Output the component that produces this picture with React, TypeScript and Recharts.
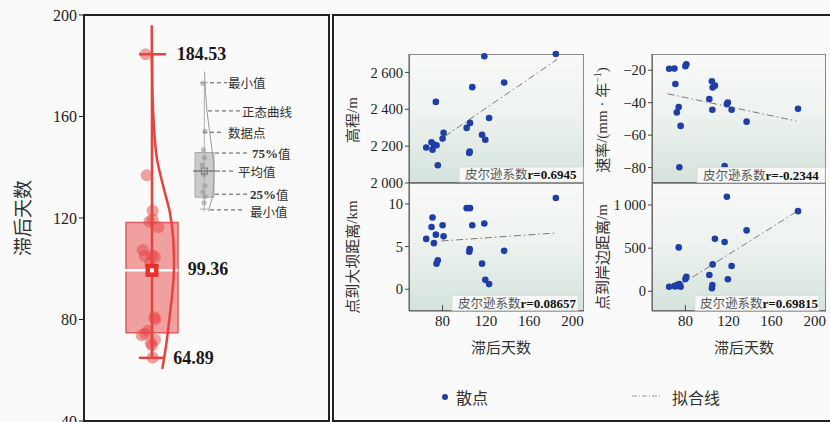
import React from 'react';
import { ComposedChart, Scatter, Line, XAxis, YAxis, ReferenceArea, ReferenceLine } from 'recharts';

// ---------------- data ----------------
const days = [64.89, 69.8, 70.7, 72.0, 73.8, 74.4, 75.6, 80.0, 80.9, 102.2, 104.6, 105.0, 105.3, 107.4, 116.4, 118.5, 119.4, 122.9, 136.8, 184.53];
const elevation = [2193, 2221, 2181, 2208, 2440, 2205, 2096, 2241, 2272, 2299, 2163, 2170, 2326, 2520, 2262, 2688, 2235, 2353, 2545, 2700];
const rate = [-19.1, -19, -28.5, -46, -42.7, -79.8, -54.3, -17.5, -16.3, -37.8, -26.8, -44.4, -30.6, -29.5, -79, -40.9, -39.9, -44.4, -51.7, -43.8];
const damDist = [5.9, 7.3, 8.4, 5.4, 6.4, 3.0, 3.4, 7.5, 6.2, 9.5, 4.4, 4.7, 9.5, 7.5, 3.0, 7.7, 1.1, 0.6, 4.5, 10.7];
const shoreDist = [53, 61, 55, 73, 509, 84, 53, 142, 169, 189, 35, 73, 312, 609, 571, 1095, 139, 293, 706, 929];

const pearson = ['0.6945', '-0.2344', '0.08657', '0.69815'];

const fitElevX = [82, 185.6];
const fitElevY = [2253, 2670];
const fitRateX = [63.4, 183];
const fitRateY = [-34.5, -51.3];
const fitDamX = [79, 185.6];
const fitDamY = [5.66, 6.6];
const fitShoreX = [75, 184];
const fitShoreY = [73, 929];

const dayTicks = [80, 120, 160, 200];
const elevTicks = [2000, 2200, 2400, 2600];
const rateTicks = [-80, -60, -40, -20];
const damTicks = [0, 5, 10];
const shoreTicks = [0, 500, 1000];
const leftTicks = [40, 80, 120, 160, 200];

// box plot statistics of 滞后天数
const statMin = 64.89;
const statQ1 = 74.8;
const statMean = 99.36;
const statQ3 = 118.2;
const statMax = 184.53;

// normal curve (value, horizontal offset in layout units)
const normalCurveV = [196, 180, 166.5, 144, 132.4, 121.9, 111.4, 100.9, 90.4, 80, 69.5, 60.5];
const normalCurveW = [66.7, 67, 67.7, 71.7, 78.3, 85, 88.3, 89, 87.3, 84.3, 81, 77.3];

// legend inset sample (illustrative)
const insetV = [173.1, 154.1, 146.9, 143.7, 140.9, 137, 132.7, 130.4, 128.5, 126];
const insetCurveV = [177.7, 162, 147, 139, 131, 122.6];
const insetCurveW = [119.5, 122, 127, 129, 128.3, 123.3];

// ---------------- layout (not data) ----------------
const boxJitter = [67.7, 67, 65.7, 70, 56.7, 60, 63, 70.3, 69.3, 65, 70, 59.7, 67.3, 57.7, 73.3, 64.3, 67.7, 67.7, 61.7, 60.7];
const insetJitter = [118, 120, 118.5, 119.5, 117, 119, 120, 118, 120, 119];

const CJK = "'Noto Sans CJK SC', 'Noto Sans', sans-serif";
const SERIF = "'Liberation Serif', 'DejaVu Serif', serif";
const BLUE = '#1f3fa6';
const RED = '#e8423c';

const fmtNum = (v: number) => {
  const a = Math.abs(v);
  const s = a >= 1000 ? `${Math.floor(a / 1000)} ${String(a % 1000).padStart(3, '0')}` : String(a);
  return (v < 0 ? '\u2212' : '') + s;
};

function XTick(props: any) {
  const { x, y, payload } = props;
  return (
    <g>
      <line x1={x} x2={x} y1={y} y2={y - 6} stroke="#444" strokeWidth={1} />
      <text x={x} y={y + 15} textAnchor="middle" fontSize={15} fontFamily={SERIF} fill="#222">
        {payload.value}
      </text>
    </g>
  );
}

const blueDot = (p: any) => <circle cx={p.cx} cy={p.cy} r={3.3} fill={BLUE} />;

type PanelProps = {
  left: number; top: number; w: number; h: number;
  ys: number[]; domain: [number, number]; ticks: number[];
  fx: number[]; fy: number[]; showX: boolean;
};

function Panel({ left, top, w, h, ys, domain, ticks, fx, fy, showX }: PanelProps) {
  const YW = 60, MT = 10, MR = 10, XH = 24;
  const data = days.map((d, i) => ({ x: d, y: ys[i] }));
  const fit = fx.map((x, i) => ({ x, y: fy[i] }));
  return (
    <>
      <div style={{
        position: 'absolute', left, top, width: w, height: h, boxSizing: 'border-box',
        border: '1px solid #8a8a8a', background: 'linear-gradient(to bottom, #f8f9f8 0%, #eef3f0 45%, #d5e3dc 100%)',
      }} />
      <div style={{ position: 'absolute', left: left - YW, top: top - MT }}>
        <ComposedChart width={YW + w + MR} height={MT + h + XH} margin={{ top: MT, right: MR, bottom: 0, left: 0 }}>
          <XAxis type="number" dataKey="x" domain={[49, 210.5]} ticks={dayTicks} height={XH}
            axisLine={{ stroke: '#555' }} tickLine={false} tickSize={0} tickMargin={0}
            tick={showX ? <XTick /> : false} />
          <YAxis type="number" dataKey="y" domain={domain} ticks={ticks} width={YW}
            axisLine={{ stroke: '#555' }} tickLine={{ stroke: '#444' }} tickSize={4} tickMargin={2}
            tick={{ fontSize: 14.5, fill: '#222', fontFamily: SERIF }} tickFormatter={fmtNum} />
          <Line data={fit} dataKey="y" type="linear" stroke="#7a7a7a" strokeWidth={1}
            strokeDasharray="7 3 1.5 3" dot={false} isAnimationActive={false} />
          <Scatter data={data} dataKey="y" fill={BLUE} shape={blueDot} isAnimationActive={false} />
        </ComposedChart>
      </div>
    </>
  );
}

function LeftPanel() {
  const pts = days.map((d, i) => ({ x: boxJitter[i], y: d }));
  const curve = normalCurveV.map((v, i) => ({ x: normalCurveW[i], y: v }));
  const insetPts = insetV.map((v, i) => ({ x: insetJitter[i], y: v }));
  const insetCurve = insetCurveV.map((v, i) => ({ x: insetCurveW[i], y: v }));
  const meanPt = [{ x: 67, y: statMean }];
  const insetMean = [{ x: 119.3, y: 138.5 }];
  return (
    <div style={{ position: 'absolute', left: 0, top: 5 }}>
      <ComposedChart width={334} height={436} margin={{ top: 10, right: 5, bottom: 20, left: 0 }}>
        <XAxis type="number" dataKey="x" domain={[0, 244]} hide />
        <YAxis type="number" dataKey="y" domain={[40, 200]} ticks={leftTicks} width={85}
          axisLine={false} tickSize={6} tickMargin={2} tickLine={{ stroke: '#222' }}
          tick={{ fontSize: 16, fill: '#222', fontFamily: SERIF }} />
        {/* inset legend illustration */}
        <ReferenceLine segment={[{ x: 119.3, y: 122.6 }, { x: 119.3, y: 173.7 }]} stroke="#b0b0b0" strokeWidth={1} />
        <ReferenceArea x1={110} x2={129} y1={128.2} y2={145.8} fill="#c4c4c4" fillOpacity={0.9} stroke="#a8a8a8" />
        <ReferenceLine segment={[{ x: 115, y: 173.3 }, { x: 123, y: 173.3 }]} stroke="#b0b0b0" />
        <ReferenceLine segment={[{ x: 115, y: 123.5 }, { x: 123, y: 123.5 }]} stroke="#b0b0b0" />
        <ReferenceLine segment={[{ x: 108, y: 138.5 }, { x: 135, y: 138.5 }]} stroke="#555" />
        <ReferenceLine segment={[{ x: 125, y: 173.3 }, { x: 142, y: 173.3 }]} stroke="#555" strokeDasharray="4 3" />
        <ReferenceLine segment={[{ x: 123, y: 162.2 }, { x: 155, y: 162.2 }]} stroke="#555" strokeDasharray="4 3" />
        <ReferenceLine segment={[{ x: 118, y: 153.8 }, { x: 137, y: 153.8 }]} stroke="#555" strokeDasharray="4 3" />
        <ReferenceLine segment={[{ x: 130, y: 145.6 }, { x: 163, y: 145.6 }]} stroke="#555" strokeDasharray="4 3" />
        <ReferenceLine segment={[{ x: 137, y: 138.5 }, { x: 150, y: 138.5 }]} stroke="#555" strokeDasharray="4 3" />
        <ReferenceLine segment={[{ x: 130, y: 129.4 }, { x: 163, y: 129.4 }]} stroke="#555" strokeDasharray="4 3" />
        <ReferenceLine segment={[{ x: 125, y: 123.2 }, { x: 157, y: 123.2 }]} stroke="#555" strokeDasharray="4 3" />
        {/* main box plot */}
        <ReferenceArea x1={41} x2={93} y1={statQ1} y2={statQ3} fill="#ef8a8a" fillOpacity={0.8} stroke="#e65a5a" strokeWidth={1.5} />
        <ReferenceLine segment={[{ x: 67, y: statMin }, { x: 67, y: statMax }]} stroke={RED} strokeWidth={2.5} />
        <ReferenceLine segment={[{ x: 54, y: statMax }, { x: 81, y: statMax }]} stroke={RED} strokeWidth={2.5} />
        <ReferenceLine segment={[{ x: 54, y: statMin }, { x: 78, y: statMin }]} stroke={RED} strokeWidth={2.5} />
        <ReferenceLine segment={[{ x: 40, y: statMean }, { x: 93, y: statMean }]} stroke="#ffffff" strokeWidth={2.5} />
        <Scatter data={insetPts} dataKey="y" isAnimationActive={false}
          shape={(p: any) => <circle cx={p.cx} cy={p.cy} r={2.6} fill="rgba(150,150,150,0.6)" />} />
        <Line data={insetCurve} dataKey="y" type="monotoneY" stroke="#9a9a9a" strokeWidth={1} dot={false} isAnimationActive={false} />
        <Scatter data={insetMean} dataKey="y" isAnimationActive={false}
          shape={(p: any) => <rect x={p.cx - 3} y={p.cy - 3} width={6} height={6} fill="none" stroke="#777" />} />
        <Scatter data={pts} dataKey="y" isAnimationActive={false}
          shape={(p: any) => <circle cx={p.cx} cy={p.cy} r={6} fill="rgba(232,70,70,0.5)" />} />
        <Line data={curve} dataKey="y" type="monotoneY" stroke={RED} strokeWidth={2.5} dot={false} isAnimationActive={false} />
        <Scatter data={meanPt} dataKey="y" isAnimationActive={false}
          shape={(p: any) => (
            <g>
              <rect x={p.cx - 6.5} y={p.cy - 6.5} width={13} height={13} fill="#e5322d" />
              <rect x={p.cx - 2} y={p.cy - 2} width={4} height={4} fill="#ffffff" />
            </g>
          )} />
      </ComposedChart>
    </div>
  );
}

function Overlay() {
  const rBox = (x: number, y: number, w: number, tx: number, r: string) => (
    <g key={r}>
      <rect x={x} y={y} width={w} height={15} fill="rgba(250,250,250,0.92)" stroke="#d8d8d8" strokeWidth={0.8} />
      <text x={tx} y={y + 12} fontSize={12.5} fill="#555" fontFamily={CJK}>
        皮尔逊系数<tspan fontFamily={SERIF} fontWeight="bold" fontSize={13} fill="#111">r={r}</tspan>
      </text>
    </g>
  );
  const rot = (x: number, y: number, content: React.ReactNode, size = 15) => (
    <text transform={`translate(${x},${y}) rotate(-90)`} textAnchor="middle" dominantBaseline="central"
      fontSize={size} fill="#333" fontFamily={CJK}>{content}</text>
  );
  const ins = (x: number, y: number, content: React.ReactNode) => (
    <text x={x} y={y} dominantBaseline="central" fontSize={12.5} fill="#333" fontFamily={CJK}>{content}</text>
  );
  const bold = (x: number, y: number, s: string) => (
    <text x={x} y={y} dominantBaseline="central" fontSize={18} fontWeight="bold" fill="#1a1a1a" fontFamily={SERIF}>{s}</text>
  );
  return (
    <svg width={830} height={422} style={{ position: 'absolute', left: 0, top: 0, pointerEvents: 'none' }}>
      {rot(21.7, 218, '滞后天数', 19)}
      {bold(176.7, 54, String(statMax))}
      {bold(187.7, 269, String(statMean))}
      {bold(173.3, 357.5, String(statMin))}
      {ins(228, 82.7, '最小值')}
      {ins(242, 111, '正态曲线')}
      {ins(228, 132.3, '数据点')}
      {ins(252, 153.3, <><tspan fontFamily={SERIF} fontWeight="bold" fontSize={13}>75%</tspan>值</>)}
      {ins(238, 171.3, '平均值')}
      {ins(250, 194, <><tspan fontFamily={SERIF} fontWeight="bold" fontSize={13}>25%</tspan>值</>)}
      {ins(250, 211, '最小值')}

      {rot(351.7, 120, <>高程<tspan fontFamily={SERIF}>/m</tspan></>)}
      {rot(601.7, 120, <>速率<tspan fontFamily={SERIF}>/(mm · </tspan>年<tspan fontFamily={SERIF} fontSize={10} dy={-5}>−1</tspan><tspan fontFamily={SERIF} dy={5}>)</tspan></>)}
      {rot(351.7, 257, <>点到大坝距离<tspan fontFamily={SERIF}>/km</tspan></>)}
      {rot(601.7, 257, <>点到岸边距离<tspan fontFamily={SERIF}>/m</tspan></>)}

      {rBox(459, 167, 124, 465, pearson[0])}
      {rBox(697, 167.5, 128, 703, pearson[1])}
      {rBox(452, 295.5, 126, 458, pearson[2])}
      {rBox(695, 295.5, 124, 700, pearson[3])}

      <text x={501} y={346} textAnchor="middle" dominantBaseline="central" fontSize={15} fill="#333" fontFamily={CJK}>滞后天数</text>
      <text x={744} y={346} textAnchor="middle" dominantBaseline="central" fontSize={15} fill="#333" fontFamily={CJK}>滞后天数</text>

      <circle cx={445} cy={397} r={3} fill={BLUE} />
      <text x={456} y={397} dominantBaseline="central" fontSize={16} fill="#333" fontFamily={CJK}>散点</text>
      <line x1={632} x2={660} y1={396} y2={396} stroke="#999" strokeWidth={1} strokeDasharray="5 2 1 2" />
      <text x={672} y={397} dominantBaseline="central" fontSize={16} fill="#333" fontFamily={CJK}>拟合线</text>
    </svg>
  );
}

export default function App() {
  return (
    <div style={{ position: 'absolute', left: 0, top: 0, width: 830, height: 422, overflow: 'hidden', background: '#fafafa' }}>
      <div style={{ position: 'absolute', left: 83, top: 14, width: 247, height: 408, boxSizing: 'border-box', border: '2px solid #222' }} />
      <div style={{ position: 'absolute', left: 332, top: 14, width: 520, height: 408, boxSizing: 'border-box', border: '2px solid #222' }} />
      <LeftPanel />
      <Panel left={409} top={54} w={175} h={129} ys={elevation} domain={[2000, 2700]} ticks={elevTicks} fx={fitElevX} fy={fitElevY} showX={false} />
      <Panel left={409} top={183} w={175} h={128} ys={damDist} domain={[-2.55, 12.45]} ticks={damTicks} fx={fitDamX} fy={fitDamY} showX={true} />
      <Panel left={652} top={54} w={174} h={129} ys={rate} domain={[-89.5, -10]} ticks={rateTicks} fx={fitRateX} fy={fitRateY} showX={false} />
      <Panel left={652} top={183} w={174} h={128} ys={shoreDist} domain={[-228, 1255]} ticks={shoreTicks} fx={fitShoreX} fy={fitShoreY} showX={true} />
      <Overlay />
    </div>
  );
}
